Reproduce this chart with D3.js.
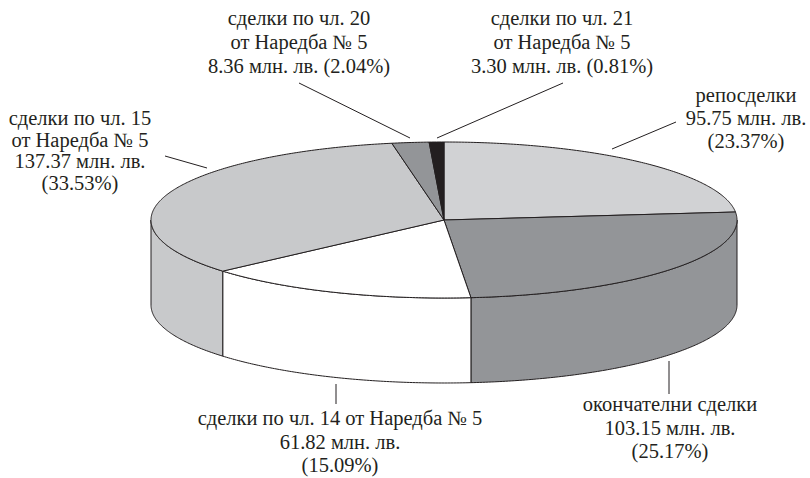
<!DOCTYPE html>
<html>
<head>
<meta charset="utf-8">
<script src="https://cdn.jsdelivr.net/npm/d3@7"></script>
<style>
  body { margin: 0; background: #fff; }
  svg text { font-family: "Liberation Serif", "Times New Roman", serif; font-size: 20.5px; fill: #231f20; }
</style>
</head>
<body>
<svg id="chart" width="810" height="478"></svg>
<script>
// slice data, clockwise from 12 o'clock
var categories = ['репосделки', 'окончателни сделки', 'сделки по чл. 14 от Наредба № 5',
    'сделки по чл. 15 от Наредба № 5', 'сделки по чл. 20 от Наредба № 5', 'сделки по чл. 21 от Наредба № 5'];
var amounts = [95.75, 103.15, 61.82, 137.37, 8.36, 3.30];   // млн. лв.
var shares = [23.37, 25.17, 15.09, 33.53, 2.04, 0.81];      // %
var fills = ['#d1d2d4', '#939598', '#ffffff', '#c8c9cb', '#939598', '#231f20'];

// label text lines
var labelLines = [
    ['репосделки', '95.75 млн. лв.', '(23.37%)'],
    ['окончателни сделки', '103.15 млн. лв.', '(25.17%)'],
    ['сделки по чл. 14 от Наредба № 5', '61.82 млн. лв.', '(15.09%)'],
    ['сделки по чл. 15', 'от Наредба № 5', '137.37 млн. лв.', '(33.53%)'],
    ['сделки по чл. 20', 'от Наредба № 5', '8.36 млн. лв. (2.04%)'],
    ['сделки по чл. 21', 'от Наредба № 5', '3.30 млн. лв. (0.81%)']
];

var cx = 444, cy = 220, rx = 293, ry = 78, depth = 85;

// label placement (annotation layout)
var labelPos = [
    { x: 746, y: 102, dy: 23, line: [[676, 122], [612, 149]] },
    { x: 670, y: 411, dy: 23.5, line: [[669, 361], [669, 394]] },
    { x: 340, y: 425, dy: 23.5, line: [[336, 384], [336, 404]] },
    { x: 80, y: 125, dy: 21.5, line: [[165, 156], [207, 168]] },
    { x: 299, y: 25, dy: 24, line: [[299, 83], [410, 138]] },
    { x: 562, y: 25, dy: 24, line: [[563, 83], [437, 138]] }
];

var svg = d3.select('#chart');
var color = d3.scaleOrdinal().domain(categories).range(fills);

var pie = d3.pie().sort(null).value(d => d.value).startAngle(0).endAngle(2 * Math.PI);
var arcs = pie(categories.map((c, i) => ({ name: c, value: shares[i], i: i })));

function pt(a, dz) {
    return [cx + rx * Math.sin(a), cy - ry * Math.cos(a) + (dz || 0)];
}
function arcPoints(a0, a1, dz) {
    var n = Math.max(2, Math.ceil(Math.abs(a1 - a0) / 0.01));
    return d3.range(n + 1).map(k => pt(a0 + (a1 - a0) * k / n, dz));
}
var line = d3.line();

// side walls (only front half is visible)
var sides = svg.append('g');
arcs.forEach(function (d) {
    var s0 = Math.max(d.startAngle, Math.PI / 2);
    var s1 = Math.min(d.endAngle, 3 * Math.PI / 2);
    if (s1 <= s0) return;
    var pts = arcPoints(s0, s1, 0).concat(arcPoints(s1, s0, depth));
    sides.append('path')
        .attr('d', line(pts) + 'Z')
        .attr('fill', color(d.data.name))
        .attr('stroke', '#231f20')
        .attr('stroke-width', 1)
        .attr('stroke-linejoin', 'round');
});

// top face
var tops = svg.append('g');
arcs.forEach(function (d) {
    var pts = [[cx, cy]].concat(arcPoints(d.startAngle, d.endAngle, 0));
    tops.append('path')
        .attr('d', line(pts) + 'Z')
        .attr('fill', color(d.data.name))
        .attr('stroke', '#231f20')
        .attr('stroke-width', 1)
        .attr('stroke-linejoin', 'round');
});

// leader lines and labels
arcs.forEach(function (d, i) {
    var p = labelPos[i];
    svg.append('line')
        .attr('x1', p.line[0][0]).attr('y1', p.line[0][1])
        .attr('x2', p.line[1][0]).attr('y2', p.line[1][1])
        .attr('stroke', '#231f20')
        .attr('stroke-width', 1);
    var t = svg.append('text')
        .attr('text-anchor', 'middle');
    labelLines[i].forEach(function (s, k) {
        t.append('tspan')
            .attr('x', p.x)
            .attr('y', p.y + k * p.dy)
            .text(s);
    });
});
</script>
</body>
</html>
